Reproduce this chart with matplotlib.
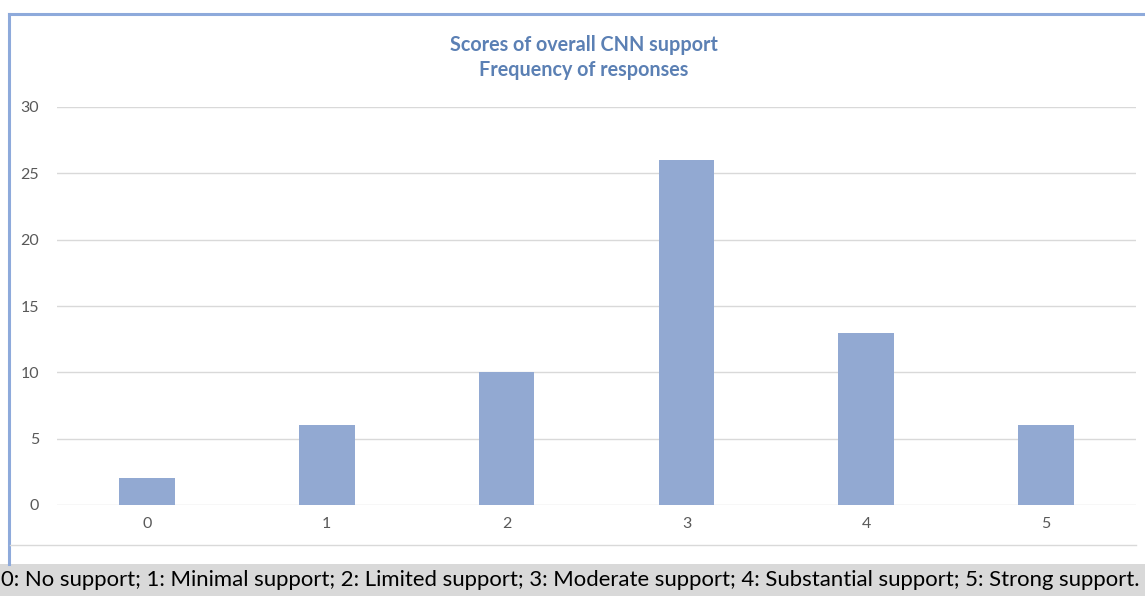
import matplotlib.pyplot as plt
from matplotlib.patches import Rectangle
from matplotlib.lines import Line2D

scores = ["0", "1", "2", "3", "4", "5"]
frequency = [2, 6, 10, 26, 13, 6]
y_ticks = [0, 5, 10, 15, 20, 25, 30]
title_lines = ["Scores of overall CNN support", "Frequency of responses"]
legend_text = ("0: No support; 1: Minimal support; 2: Limited support; "
               "3: Moderate support; 4: Substantial support; 5: Strong support.")

W, H = 1145, 596
fig = plt.figure(figsize=(W / 100, H / 100), dpi=100)
fig.patch.set_facecolor("white")

def fx(px):
    return px / W

def fy(py):
    return 1 - py / H

# chart frame (left and top edges)
fig.add_artist(Line2D([fx(9), fx(9)], [fy(14), fy(564)], color="#8eaadb", lw=2.2))
fig.add_artist(Line2D([fx(9), fx(W + 5)], [fy(14), fy(14)], color="#8eaadb", lw=2.2))
# separator under the axis labels
fig.add_artist(Line2D([fx(10), fx(1136)], [fy(545), fy(545)], color="#d9d9d9", lw=1))
# caption band
fig.add_artist(Rectangle((0, 0), 1, fy(564), transform=fig.transFigure,
                         facecolor="#d9d9d9", edgecolor="none"))
caption = fig.text(fx(1), fy(580), legend_text, ha="left", va="center",
                   fontsize=16, family="Lato", color="black")
# scale the caption so it spans the band
renderer = fig.canvas.get_renderer()
w = caption.get_window_extent(renderer).width
caption.set_fontsize(16 * 1142 / w)

left, right, top, bottom = 57, 1136, 107, 505
ax = fig.add_axes([fx(left), fy(bottom), fx(right - left), (bottom - top) / H])
x = list(range(len(scores)))
ax.bar(x, frequency, width=0.31, color="#92a9d2", zorder=3)
ax.set_xlim(-0.5, len(scores) - 0.5)
ax.set_ylim(0, 30)
ax.set_yticks(y_ticks)
ax.set_xticks(x)
ax.set_xticklabels(scores)
ax.grid(axis="y", color="#d9d9d9", lw=1, zorder=0)
for s in ax.spines.values():
    s.set_visible(False)
ax.tick_params(length=0, labelsize=11.5, labelcolor="#595959", pad=9)
ax.tick_params(axis="y", pad=13)
for lab in ax.get_xticklabels() + ax.get_yticklabels():
    lab.set_family("Lato")

fig.text(fx(584), fy(45), title_lines[0], ha="center", va="center",
         fontsize=14.2, fontweight="bold", family="Lato", color="#5b80b4")
fig.text(fx(584), fy(70), title_lines[1], ha="center", va="center",
         fontsize=14.2, fontweight="bold", family="Lato", color="#5b80b4")

fig.savefig("out.png", dpi=100)
